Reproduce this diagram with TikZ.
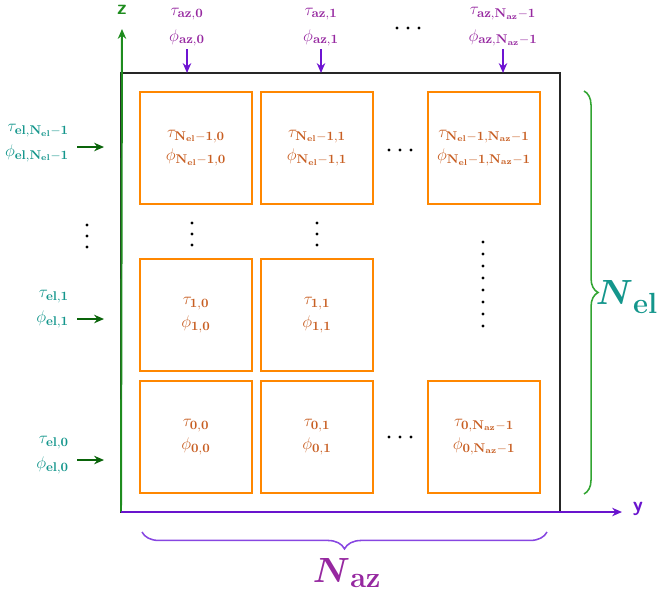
\documentclass[tikz,border=0pt]{standalone}
\usepackage{amsmath}
\usepackage{amssymb}
\usetikzlibrary{decorations.pathreplacing,arrows.meta}
\definecolor{boxorange}{RGB}{255,135,0}
\definecolor{boxtext}{RGB}{200,95,35}
\definecolor{azlabel}{RGB}{150,40,160}
\definecolor{azarrow}{RGB}{110,20,210}
\definecolor{ellabel}{RGB}{20,150,140}
\definecolor{elarrow}{RGB}{10,100,10}
\definecolor{zgreen}{RGB}{30,140,30}
\definecolor{ypurple}{RGB}{105,20,205}
\definecolor{bracegreen}{RGB}{50,165,50}
\definecolor{bracepurple}{RGB}{135,70,225}

\begin{document}
\begin{tikzpicture}[x=0.025cm, y=-0.025cm, font=\fontsize{13}{15.6}\selectfont, >={Stealth[length=7pt,width=6pt]},
	cell/.style={draw=boxorange, line width=1.9pt, minimum size=2.8cm, inner sep=0pt, text=boxtext, align=center},
	azlab/.style={text=azlabel, align=center, inner sep=2pt},
	ellab/.style={text=ellabel, align=right, inner sep=2pt, anchor=east},
	dot/.style={black, radius=1.6}]
\useasboundingbox (0,0) rectangle (657,593);

% frame and axes
\coordinate (origin) at (121,512);
\coordinate (ftop) at (121,73);
\draw[black!85, line width=1.1pt](121,73) rectangle (560,512);
\draw[zgreen, line width=1.4pt, ->](origin)--(122,29);
\draw[ypurple, line width=1.4pt, ->](origin)--(622,512);
\node[zgreen, font=\sffamily\bfseries\Large] (zlab) at (122,10) {z};
\node[ypurple, font=\sffamily\bfseries\Large] (ylab) at (638,509) {y};

% cells
\node[cell] (c20) at (196,148) {$\tau_{\mathbf{N_{el}-1,0}}$\\[1pt]$\phi_{\mathbf{N_{el}-1,0}}$};
\node[cell] (c21) at (317,148) {$\tau_{\mathbf{N_{el}-1,1}}$\\[1pt]$\phi_{\mathbf{N_{el}-1,1}}$};
\node[cell] (c22) at (484,148) {$\tau_{\mathbf{N_{el}-1,N_{az}-1}}$\\[1pt]$\phi_{\mathbf{N_{el}-1,N_{az}-1}}$};
\node[cell] (c10) at (196,315) {$\tau_{\mathbf{1,0}}$\\[1pt]$\phi_{\mathbf{1,0}}$};
\node[cell] (c11) at (317,315) {$\tau_{\mathbf{1,1}}$\\[1pt]$\phi_{\mathbf{1,1}}$};
\node[cell] (c00) at (196,437) {$\tau_{\mathbf{0,0}}$\\[1pt]$\phi_{\mathbf{0,0}}$};
\node[cell] (c01) at (317,437) {$\tau_{\mathbf{0,1}}$\\[1pt]$\phi_{\mathbf{0,1}}$};
\node[cell] (c02) at (484,437) {$\tau_{\mathbf{0,N_{az}-1}}$\\[1pt]$\phi_{\mathbf{0,N_{az}-1}}$};

% dots
\foreach \x in {389,400,411}{
	\fill[dot] (\x+8,28) circle;
	\fill[dot] (\x,150) circle;
	\fill[dot] (\x,437) circle;
}
\foreach \y in {223,234,245}{
	\fill[dot] (192,\y) circle;
	\fill[dot] (317,\y) circle;
	\fill[dot] (87,\y+2) circle;
}
\foreach \k in {0,1,...,7}{
	\fill[dot] (483,242+\k*12) circle;
}

% azimuth inputs
\node[azlab] (az0) at (187,27) {$\tau_{\mathbf{az,0}}$\\[3pt]$\phi_{\mathbf{az,0}}$};
\node[azlab] (az1) at (321,27) {$\tau_{\mathbf{az,1}}$\\[3pt]$\phi_{\mathbf{az,1}}$};
\node[azlab] (azN) at (503,27) {$\tau_{\mathbf{az,N_{az}-1}}$\\[3pt]$\phi_{\mathbf{az,N_{az}-1}}$};
\foreach \n in {az0,az1,azN}{
	\draw[azarrow, line width=1.4pt, ->](\n.south)--(\n.south |- ftop);
}

% elevation inputs
\node[ellab] (elN) at (72,143) {$\tau_{\mathbf{el,N_{el}-1}}$\\[2pt]$\phi_{\mathbf{el,N_{el}-1}}$};
\node[ellab] (el1) at (72,309) {$\tau_{\mathbf{el,1}}$\\[2pt]$\phi_{\mathbf{el,1}}$};
\node[ellab] (el0) at (72,455) {$\tau_{\mathbf{el,0}}$\\[2pt]$\phi_{\mathbf{el,0}}$};
\draw[elarrow, line width=1.4pt, ->]([shift={(5,4)}]elN.east)--++(27,0);
\draw[elarrow, line width=1.4pt, ->]([shift={(5,10)}]el1.east)--++(27,0);
\draw[elarrow, line width=1.4pt, ->]([shift={(5,5)}]el0.east)--++(27,0);

% braces
\draw[bracegreen, line width=1.1pt, decorate, decoration={brace, amplitude=10pt}](584,91)--(584,494);
\node[text=ellabel, font=\Huge] (Nel) at (627,297) {$\boldsymbol{N}_{\mathbf{el}}$};
\draw[bracepurple, line width=1.1pt, decorate, decoration={brace, amplitude=12pt}](547,532)--(142,532);
\node[text=azlabel, font=\Huge] (Naz) at (347,573) {$\boldsymbol{N}_{\mathbf{az}}$};
\end{tikzpicture}
\end{document}
